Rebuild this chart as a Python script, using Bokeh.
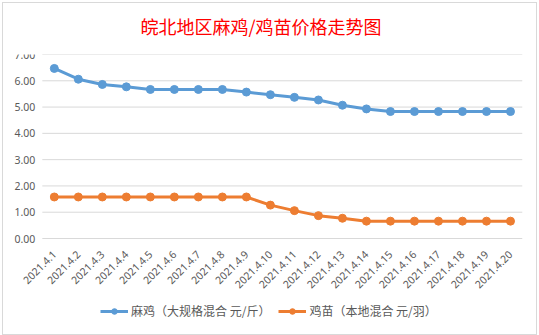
from bokeh.plotting import figure
from bokeh.models import (FixedTicker, NumeralTickFormatter, Legend, LegendItem,
                          Range1d, Title)
from bokeh.embed import file_html
from bokeh.resources import INLINE
from math import pi

dates = ["2021.4.1", "2021.4.2", "2021.4.3", "2021.4.4", "2021.4.5",
         "2021.4.6", "2021.4.7", "2021.4.8", "2021.4.9", "2021.4.10",
         "2021.4.11", "2021.4.12", "2021.4.13", "2021.4.14", "2021.4.15",
         "2021.4.16", "2021.4.17", "2021.4.18", "2021.4.19", "2021.4.20"]
maji = [6.47, 6.06, 5.86, 5.77, 5.67, 5.67, 5.67, 5.67, 5.57, 5.47,
        5.37, 5.27, 5.07, 4.93, 4.83, 4.83, 4.83, 4.83, 4.83, 4.83]
jimiao = [1.58, 1.58, 1.58, 1.58, 1.58, 1.58, 1.58, 1.58, 1.58, 1.27,
          1.06, 0.87, 0.77, 0.66, 0.66, 0.66, 0.66, 0.66, 0.66, 0.66]
y_ticks = [0, 1, 2, 3, 4, 5, 6, 7]
name_maji = "麻鸡（大规格混合 元/斤）"
name_jimiao = "鸡苗（本地混合 元/羽）"
title_text = "皖北地区麻鸡/鸡苗价格走势图"

BLUE = "#5B9BD5"
ORANGE = "#ED7D31"
TXT = "#595959"

xs = list(range(len(dates)))
n = len(dates)

# the frame covers the whole chart area so that the pinned axes'
# labels and the legend are drawn inside it without clipping
p = figure(frame_width=518, frame_height=280,
           x_range=Range1d(-2.075, n - 0.5),
           y_range=Range1d(-3.652, 7),
           output_backend="svg", toolbar_location=None,
           min_border_left=1, min_border_right=14,
           min_border_top=51, min_border_bottom=0,
           background_fill_color="white", border_fill_color="white")
p.margin = (2, 0, 0, 2)
p.styles = {"border": "1px solid #d9d9d9"}
p.outline_line_color = None

spacer = Title(text=" ", text_font_size="1px", standoff=7)
p.add_layout(spacer, "above")
main_title = Title(text=title_text, align="left", vertical_align="top",
                   offset=136, standoff=8, text_color="#FF0000",
                   text_font="Noto Sans CJK SC", text_font_size="18px",
                   text_font_style="normal")
p.add_layout(main_title, "above")

# horizontal grid lines across the category span only
p.segment(x0=[-0.5] * len(y_ticks), x1=[n - 0.5] * len(y_ticks),
          y0=y_ticks, y1=y_ticks, line_color="#d9d9d9", line_width=1)

l1 = p.line(xs, maji, line_color=BLUE, line_width=3)
c1 = p.scatter(xs, maji, size=8, fill_color=BLUE, line_color=BLUE)
l2 = p.line(xs, jimiao, line_color=ORANGE, line_width=3)
c2 = p.scatter(xs, jimiao, size=8, fill_color=ORANGE, line_color=ORANGE)

p.yaxis.fixed_location = -0.5
p.yaxis.ticker = FixedTicker(ticks=y_ticks)
p.yaxis.formatter = NumeralTickFormatter(format="0.00")
p.yaxis.axis_line_color = None
p.yaxis.major_tick_line_color = None
p.yaxis.minor_tick_line_color = None
p.yaxis.major_tick_out = 0
p.yaxis.major_label_text_color = TXT
p.yaxis.major_label_text_font = "Noto Sans"
p.yaxis.major_label_text_font_size = "10.5px"
p.yaxis.major_label_standoff = 7

p.xaxis.fixed_location = 0
p.xaxis.ticker = FixedTicker(ticks=xs)
p.xaxis.major_label_overrides = {i: d for i, d in zip(xs, dates)}
p.xaxis.axis_line_color = None
p.xaxis.major_tick_line_color = None
p.xaxis.minor_tick_line_color = None
p.xaxis.major_tick_out = 0
p.xaxis.major_label_orientation = pi / 4
p.xaxis.major_label_text_color = TXT
p.xaxis.major_label_text_font = "Noto Sans"
p.xaxis.major_label_text_font_size = "10.5px"
p.xaxis.major_label_standoff = 14

p.xgrid.grid_line_color = None
p.ygrid.grid_line_color = None

legend = Legend(items=[LegendItem(label=name_maji, renderers=[l1, c1]),
                       LegendItem(label=name_jimiao, renderers=[l2, c2])],
                orientation="horizontal", location=(96, 15),
                label_text_font="Noto Sans CJK SC", label_text_font_size="12px",
                label_text_color=TXT, glyph_width=28, glyph_height=14,
                spacing=8, label_standoff=3, padding=3, margin=0,
                border_line_color=None, background_fill_alpha=0)
p.add_layout(legend, "center")

open("out.html", "w").write(file_html(p, INLINE))
